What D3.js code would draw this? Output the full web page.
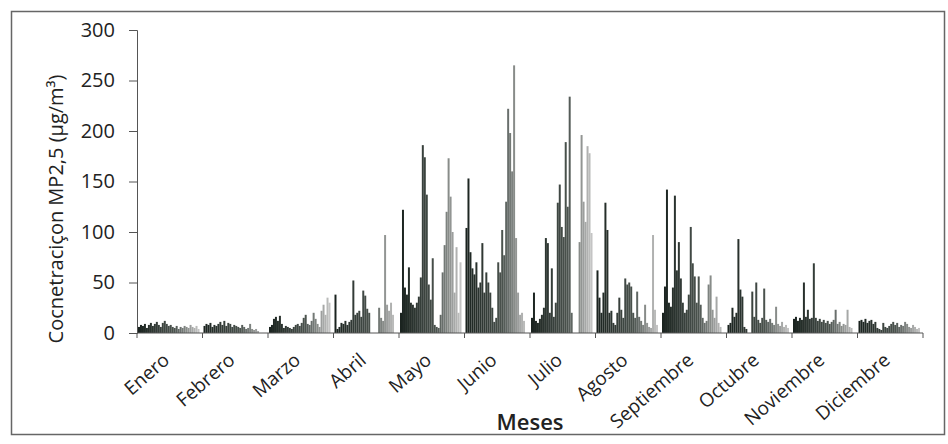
<!DOCTYPE html>
<html>
<head>
<meta charset="utf-8">
<script src="https://cdn.jsdelivr.net/npm/d3@7"></script>
<style>
  body { margin: 0; background: #fff; }
</style>
</head>
<body>
<div id="chart"></div>
<script>
// Months on the x axis, one bar per day inside each month
const months = ["Enero", "Febrero", "Marzo", "Abril", "Mayo", "Junio",
                "Julio", "Agosto", "Septiembre", "Octubre", "Noviembre", "Diciembre"];

// daily PM2.5 (µg/m³); null = no day / no data
const enero      = [6, 8, 7, 9, 5, 8, 10, 7, 9, 11, 8, 6, 10, 12, 9, 7, 8, 6, 5, 7, 4, 6, 5, 7, 6, 5, 8, 6, 5, 7, 4];
const febrero    = [7, 9, 8, 10, 6, 8, 7, 9, 11, 8, 12, 7, 10, 9, 6, 8, 7, 6, 5, 8, 6, 4, 5, 9, 4, 3, 4, 2, null, null, null];
const marzo      = [6, 8, 14, 16, 12, 17, 9, 5, 7, 6, 5, 4, 6, 8, 9, 7, 10, 15, 18, 9, 8, 12, 20, 14, 9, 6, 22, 28, 18, 35, 30];
const abril      = [38, 4, 6, 10, 9, 12, 8, 11, 13, 52, 18, 20, 22, 16, 42, 37, 24, 20, 0, 0, 0, 0, 25, 15, 12, 97, 28, 22, 30, 18, null];
const mayo       = [20, 122, 45, 38, 65, 30, 28, 25, 30, 36, 55, 186, 174, 137, 48, 33, 74, 8, 6, 5, 18, 60, 87, 120, 173, 135, 100, 40, 85, 20, 70];
const junio      = [104, 153, 80, 64, 58, 70, 45, 50, 89, 40, 60, 50, 40, 25, 11, 15, 70, 60, 102, 77, 130, 222, 198, 160, 265, 94, 40, 18, 20, 12, null];
const julio      = [15, 40, 12, 10, 14, 18, 25, 94, 89, 20, 64, 16, 30, 129, 147, 105, 95, 189, 125, 234, 20, 0, 0, 0, 90, 196, 130, 110, 185, 178, 99];
const agosto     = [62, 35, 20, 40, 129, 102, 20, 22, 10, 8, 20, 35, 23, 15, 54, 48, 50, 46, 20, 15, 41, 16, 12, 8, 28, 10, 6, 5, 97, 23, 8];
const septiembre = [20, 46, 142, 30, 26, 45, 136, 62, 90, 54, 30, 20, 23, 38, 105, 69, 56, 30, 56, 28, 15, 10, 12, 48, 57, 23, 15, 36, 10, 6, null];
const octubre    = [8, 10, 25, 16, 20, 93, 43, 36, 6, 4, 0, 0, 41, 16, 50, 13, 10, 15, 44, 13, 11, 14, 10, 8, 26, 9, 7, 11, 6, 8, 5];
const noviembre  = [14, 16, 12, 15, 13, 50, 16, 23, 14, 15, 69, 15, 12, 14, 11, 13, 10, 12, 9, 11, 13, 23, 9, 11, 7, 9, 8, 23, 6, 5, null];
const diciembre  = [12, 13, 11, 14, 10, 12, 13, 9, 11, 5, 4, 3, 10, 6, 5, 7, 9, 11, 8, 10, 6, 8, 7, 11, 9, 6, 5, 8, 6, 4, 5];

const yTicks = [0, 50, 100, 150, 200, 250, 300];

const series = [enero, febrero, marzo, abril, mayo, junio,
                julio, agosto, septiembre, octubre, noviembre, diciembre];

const width = 948, height = 444;
const plotLeft = 137, plotRight = 923, plotTop = 30, plotBottom = 333;
const fontFamily = "'Open Sans', 'DejaVu Sans', sans-serif";
const axisColor = "#555";
const textColor = "#222";

const svg = d3.select("#chart").append("svg")
    .attr("width", width)
    .attr("height", height)
    .style("background", "#fff");

// frame around the whole chart
svg.append("rect")
    .attr("x", 11.5).attr("y", 11.5)
    .attr("width", 933).attr("height", 423)
    .attr("fill", "none")
    .attr("stroke", "#666")
    .attr("stroke-width", 1.5);

const x = d3.scaleBand().domain(months).range([plotLeft, plotRight]).padding(0);
const xDay = d3.scaleBand().domain(d3.range(31)).range([1, x.bandwidth() - 3]).padding(0);
const y = d3.scaleLinear().domain([0, 300]).range([plotBottom, plotTop]);

// dark at the start of each month, fading to light grey at the end
const dayColor = d3.scaleLinear()
    .domain([0, 18, 30])
    .range(["#1a231f", "#4b534e", "#c4c4c4"]);

// bars
const monthGroups = svg.append("g").selectAll("g")
    .data(months.map((m, i) => ({ month: m, values: series[i] })))
    .join("g")
    .attr("transform", d => `translate(${x(d.month)},0)`);

monthGroups.selectAll("rect")
    .data(d => d.values.map((v, i) => ({ day: i, value: v })).filter(d => d.value != null))
    .join("rect")
    .attr("x", d => xDay(d.day))
    .attr("width", xDay.bandwidth())
    .attr("y", d => y(d.value))
    .attr("height", d => y(0) - y(d.value))
    .attr("fill", d => dayColor(d.day));

// y axis
const yAxis = svg.append("g")
    .attr("transform", `translate(${plotLeft},0)`)
    .call(d3.axisLeft(y).tickValues(yTicks).tickSize(8).tickPadding(14));
yAxis.select(".domain").attr("stroke", axisColor);
yAxis.selectAll(".tick line").attr("stroke", axisColor);
yAxis.selectAll("text")
    .attr("font-family", fontFamily)
    .attr("font-size", 20)
    .attr("fill", textColor);

// x axis: ticks between months, labels under each month
const xAxis = svg.append("g")
    .attr("transform", `translate(0,${plotBottom})`);
xAxis.append("line")
    .attr("x1", plotLeft).attr("x2", plotRight)
    .attr("stroke", axisColor);
xAxis.selectAll(".mtick")
    .data(months.concat(["end"]))
    .join("line")
    .attr("class", "mtick")
    .attr("x1", (d, i) => plotLeft + i * x.bandwidth())
    .attr("x2", (d, i) => plotLeft + i * x.bandwidth())
    .attr("y1", 0).attr("y2", 5)
    .attr("stroke", axisColor);

svg.append("g").selectAll("text")
    .data(months)
    .join("text")
    .attr("transform", d => `translate(${x(d) + x.bandwidth() / 2 + 1},${plotBottom + 29}) rotate(-41)`)
    .attr("text-anchor", "end")
    .attr("font-family", fontFamily)
    .attr("font-size", 19)
    .attr("fill", textColor)
    .text(d => d);

// axis titles
svg.append("text")
    .attr("x", 530).attr("y", 430)
    .attr("text-anchor", "middle")
    .attr("font-family", fontFamily)
    .attr("font-size", 22)
    .attr("font-weight", 600)
    .attr("fill", textColor)
    .text("Meses");

svg.append("text")
    .attr("transform", `translate(63,209) rotate(-90)`)
    .attr("text-anchor", "middle")
    .attr("font-family", fontFamily)
    .attr("font-size", 20)
    .attr("fill", textColor)
    .text("Cocnetraciçon MP2,5 (µg/m³)");
</script>
</body>
</html>
